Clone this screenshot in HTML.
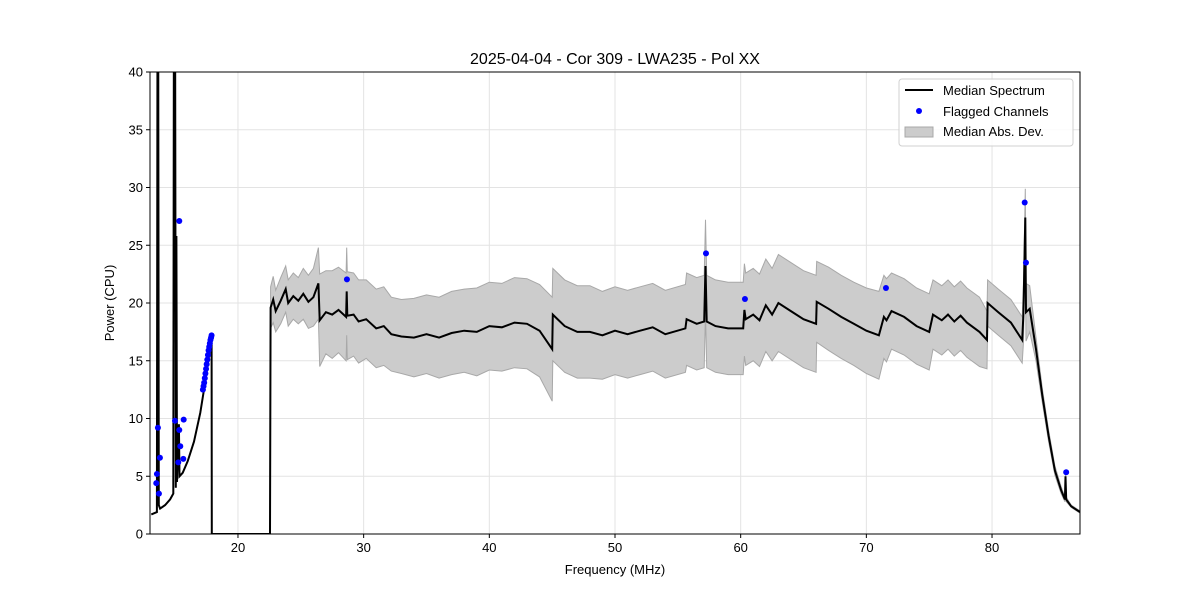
<!DOCTYPE html>
<html><head><meta charset="utf-8"><style>
body{margin:0;background:#fff;}
svg{display:block;font-family:"Liberation Sans","DejaVu Sans",sans-serif;}
</style></head><body>
<svg id="chart" width="1200" height="600"></svg>
<script>
const freqMHz = [
 13.1,13.55,13.6,13.65,13.7,13.8,14.2,14.6,14.85,14.9,15.0,15.05,15.1,15.15,15.3,15.35,15.6,16.0,16.5,17.0,17.3,17.6,17.9,17.92,22.55,
 22.6,22.8,23.0,23.4,23.8,24.0,24.4,24.8,25.2,25.6,26.0,26.4,
 26.5,27,27.5,28,28.6,28.65,28.7,29.2,29.6,30.2,31,31.6,32.2,33,34,35,36,37,38,39,40,41,42,43,44,45,
 45.05,46,47,48,49,50,51,52,53,54,55.6,55.7,56.5,57.1,57.2,57.3,58,59,60.2,
 60.3,60.4,61,61.5,62,62.5,63,64,65,66,66.05,67,68,69,70,71,71.4,71.6,72,73,74,75,75.3,76,76.5,77,77.5,78,79,79.6,79.65,80.5,81.5,82.4,
 82.5,82.65,82.7,83.0,83.5,84,84.5,85,85.5,85.8,85.85,85.9,86.3,87];
const medianPower = [
 1.7,1.9,45,45,2.5,2.2,2.5,3.0,3.5,45,45,4,25.8,4.5,9.5,5,5.3,6.3,8.0,10.5,12.5,14.7,17.0,0,0,
 19.6,20.3,19.3,20.2,21.2,20.0,20.6,20.2,20.8,20.1,20.5,21.7,
 18.5,19.2,19.0,19.4,18.8,21,18.9,19.0,18.4,18.6,17.8,18.0,17.3,17.1,17.0,17.3,17.0,17.4,17.6,17.5,18.0,17.9,18.3,18.2,17.6,16.0,
 19.0,18.0,17.5,17.5,17.2,17.6,17.3,17.6,17.9,17.3,17.8,18.6,18.2,18.4,23.2,18.4,18.0,17.8,17.8,
 19.4,18.6,19.0,18.5,19.8,19.0,20.0,19.3,18.6,18.2,20.1,19.5,18.8,18.2,17.6,17.2,18.8,18.5,19.3,18.8,18.0,17.5,19.0,18.5,19.0,18.4,18.9,18.3,17.5,16.8,20.0,19.2,18.3,16.8,
 19.0,27.4,19.2,19.5,16,12,8.5,5.5,3.8,3.0,5.0,3.0,2.4,1.9];
const madPower = [
 0,0,0,0,0,0,0,0,0,0,0,0,0,0,0,0,0,0,0,0,0,0,0,0,0,
 1.8,2,1.8,2,2,2,2,2,2.2,2.3,2.5,3.1,
 4,3.6,3.8,3.7,3.8,3.8,3.8,3.6,3.6,3.4,3.4,3.4,3.2,3.2,3.4,3.4,3.5,3.6,3.6,3.8,3.8,3.8,3.9,3.9,4,4.5,
 4,4,4,4,3.8,3.8,3.8,3.8,3.8,3.8,3.8,4,4,4,4,4,4,4,4,
 4,4,4,4,4,4,4.2,4.2,4.2,4.2,3.5,3.6,3.6,3.6,3.7,3.8,3.6,3.6,3.3,3.3,3.3,3.3,3,3,3,3,3,3,3,2.5,2,2,2,2,
 2.5,2.5,2.5,2,1,0.6,0.5,0.4,0.3,0.2,0.2,0.2,0.1,0.1];
const flagFreq = [13.63,13.79,13.55,13.5,13.71,14.99,15.33,15.33,15.41,15.25,15.68,15.65,
 17.21,17.26,17.31,17.36,17.41,17.46,17.51,17.56,17.61,17.66,17.71,17.76,17.81,17.86,17.9,
 28.67,57.24,60.34,71.56,82.6,82.7,85.9];
const flagPower = [9.2,6.6,5.2,4.4,3.5,9.8,27.1,9.0,7.6,6.2,9.9,6.5,
 12.5,12.8,13.1,13.5,13.9,14.3,14.7,15.1,15.5,15.9,16.2,16.5,16.8,17.0,17.2,
 22.05,24.3,20.35,21.3,28.7,23.5,5.35];
const xTicks = [20,30,40,50,60,70,80];
const yTicks = [0,5,10,15,20,25,30,35,40];

const L=150,R=1080,T=72,B=534, X0=13.0,X1=87.0, Y0=0,Y1=40;
const sx=f=>L+(f-X0)/(X1-X0)*(R-L);
const sy=v=>B-(v-Y0)/(Y1-Y0)*(B-T);
const NS="http://www.w3.org/2000/svg";
const svg=document.getElementById('chart');
function mk(tag,attrs,parent){const e=document.createElementNS(NS,tag);for(const k in attrs)e.setAttribute(k,attrs[k]);(parent||svg).appendChild(e);return e;}

const defs=mk('defs',{});
const cp=mk('clipPath',{id:'clip'},defs);
mk('rect',{x:L,y:T,width:R-L,height:B-T},cp);

// grid
xTicks.forEach(t=>{const g=mk('line',{x1:sx(t),x2:sx(t),y1:T,y2:B,stroke:'#e3e3e3','stroke-width':1});

});
yTicks.forEach(t=>{const g=mk('line',{x1:L,x2:R,y1:sy(t),y2:sy(t),stroke:'#e3e3e3','stroke-width':1});

});

const plot=mk('g',{'clip-path':'url(#clip)'});



// band
let up=[],lo=[];
for(let i=0;i<freqMHz.length;i++){up.push(sx(freqMHz[i]).toFixed(1)+','+sy(medianPower[i]+madPower[i]).toFixed(1));lo.push(sx(freqMHz[i]).toFixed(1)+','+sy(medianPower[i]-madPower[i]).toFixed(1));}
const band=mk('polygon',{points:up.concat(lo.reverse()).join(' '),fill:'#cccccc',stroke:'#a8a8a8','stroke-width':1},plot);



// median line
let pts=[];
for(let i=0;i<freqMHz.length;i++)pts.push(sx(freqMHz[i]).toFixed(1)+','+sy(medianPower[i]).toFixed(1));
const line=mk('polyline',{points:pts.join(' '),fill:'none',stroke:'#000','stroke-width':2,'stroke-linejoin':'miter'},plot);



// flags
for(let i=0;i<flagFreq.length;i++){
 const c=mk('circle',{cx:sx(flagFreq[i]),cy:sy(flagPower[i]),r:3,fill:'#0000ff'},plot);
 
 
}

// frame
const fr=mk('rect',{x:L,y:T,width:R-L,height:B-T,fill:'none',stroke:'#000','stroke-width':1});



xTicks.forEach(t=>{
 mk('line',{x1:sx(t),x2:sx(t),y1:B,y2:B+4,stroke:'#000'});
 const tx=mk('text',{x:sx(t),y:B+18,'text-anchor':'middle','font-size':13});tx.textContent=t;
 
 
});
yTicks.forEach(t=>{
 mk('line',{x1:L-4,x2:L,y1:sy(t),y2:sy(t),stroke:'#000'});
 const tx=mk('text',{x:L-7,y:sy(t)+4.5,'text-anchor':'end','font-size':13});tx.textContent=t;
 
 
});
</script>
<svg width="1200" height="600" style="position:absolute;left:0;top:0;font-family:'Liberation Sans','DejaVu Sans',sans-serif">
 <text x="615" y="64" text-anchor="middle" font-size="16">2025-04-04 - Cor 309 - LWA235 - Pol XX</text>
 <text x="615" y="574" text-anchor="middle" font-size="13">Frequency (MHz)</text>
 <text x="114" y="303" text-anchor="middle" font-size="13" transform="rotate(-90 114 303)">Power (CPU)</text>
 <g>
  <rect x="899" y="79" width="174" height="67" rx="3" fill="#fff" fill-opacity="0.85" stroke="#d0d0d0"/>
  <line x1="905" y1="90" x2="933" y2="90" stroke="#000" stroke-width="2"/>
  <text x="943" y="95" font-size="13">Median Spectrum</text>
  <circle cx="919" cy="111" r="3" fill="#0000ff"/>
  <text x="943" y="116" font-size="13">Flagged Channels</text>
  <rect x="905" y="127" width="28" height="10" fill="#cccccc" stroke="#a8a8a8"/>
  <text x="943" y="136" font-size="13">Median Abs. Dev.</text>
 </g>
</svg>
</body></html>
